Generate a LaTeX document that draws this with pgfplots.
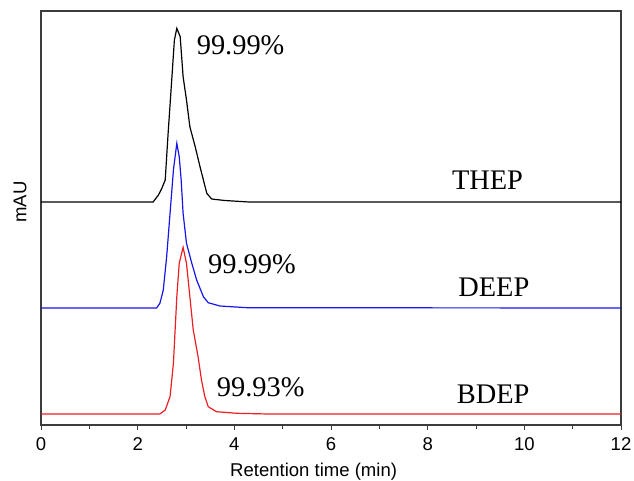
\documentclass[border=0pt]{standalone}
\usepackage{fontspec}
\setmainfont{Liberation Serif}
\setsansfont{Liberation Sans}
\usepackage{pgfplots}
\pgfplotsset{compat=1.18}
\usetikzlibrary{calc}
\definecolor{axgray}{RGB}{60,60,60}
\definecolor{tblue}{RGB}{20,20,235}
\definecolor{tred}{RGB}{235,30,35}
\begin{document}
\begin{tikzpicture}
\begin{axis}[
  name=ax,
  scale only axis,
  width=580bp, height=414bp,
  xmin=0, xmax=12, ymin=0, ymax=414,
  xtick={0,2,4,6,8,10,12},
  minor x tick num=1,
  ytick=\empty,
  xtick pos=bottom,
  tick align=outside,
  major tick length=4.5bp,
  minor tick length=3.5bp,
  every tick/.style={axgray, line width=1pt},
  axis line style={axgray, line width=1.5pt},
  /pgf/number format/assume math mode=true,
  ticklabel style={font=\sffamily\fontsize{18.6}{22}\selectfont, text=black},
  xticklabel style={yshift=-5bp},
  xlabel={Retention time (min)},
  xlabel style={font=\sffamily\fontsize{18.6}{22}\selectfont, at={(axis description cs:0.3259,0)}, anchor=base west, yshift=-51.7bp, inner sep=0pt},
  ylabel={mAU},
  ylabel style={font=\sffamily\fontsize{18.6}{22}\selectfont, at={(axis description cs:-0.0362,0.539)}, anchor=center},
  clip=false,
]
\addplot[black, line width=1.2pt] coordinates {
(0,223) (2.32,223) (2.43,230) (2.50,236.7) (2.57,245) (2.63,291.7) (2.70,341.7) (2.76,385) (2.81,396.7) (2.88,388.3) (2.94,348.3) (3.01,325) (3.08,298.3) (3.19,278.3) (3.29,258.3) (3.36,245) (3.43,231.7) (3.53,226) (3.8,224.5) (4.3,223) (12,223)
};
\addplot[tblue, line width=1.2pt] coordinates {
(0,117) (2.39,117) (2.46,121.7) (2.53,135) (2.60,168.3) (2.67,211.7) (2.74,255) (2.81,281.7) (2.86,268.3) (2.90,245) (2.94,211.7) (3.01,181.7) (3.12,161.7) (3.22,145) (3.36,128.3) (3.46,122.3) (3.70,119) (4.26,117.3) (12,117)
};
\addplot[tred, line width=1.2pt] coordinates {
(0,11) (2.46,11) (2.57,15) (2.67,28.3) (2.74,62) (2.81,128.3) (2.86,161.7) (2.94,177.7) (3.01,161.7) (3.08,128.3) (3.15,95) (3.25,68.3) (3.32,45) (3.39,28.3) (3.46,18.3) (3.63,13.3) (4.05,11.7) (4.7,11) (12,11)
};
\node[anchor=base west, inner sep=0pt, font=\fontsize{28.5}{30}\selectfont] at (axis cs:3.22,370) {99.99\%};
\node[anchor=base west, inner sep=0pt, font=\fontsize{28.5}{30}\selectfont] at (axis cs:3.455,151.7) {99.99\%};
\node[anchor=base west, inner sep=0pt, font=\fontsize{28.5}{30}\selectfont] at (axis cs:3.635,28.3) {99.93\%};
\node[anchor=base west, inner sep=0pt, font=\fontsize{28.5}{30}\selectfont] at (axis cs:8.50,235) {THEP};
\node[anchor=base west, inner sep=0pt, font=\fontsize{28.5}{30}\selectfont] at (axis cs:8.63,128.3) {DEEP};
\node[anchor=base west, inner sep=0pt, font=\fontsize{28.5}{30}\selectfont] at (axis cs:8.60,22) {BDEP};
\end{axis}
\pgfresetboundingbox
\path[use as bounding box] ($(ax.south west)+(-41bp,-56bp)$) rectangle ($(ax.north east)+(13bp,11bp)$);
\end{tikzpicture}
\end{document}
